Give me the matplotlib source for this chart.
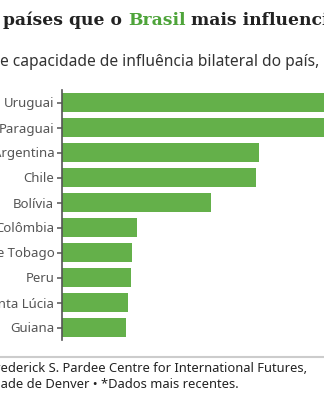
import matplotlib.pyplot as plt
from matplotlib.lines import Line2D

# influence capacity per country (bars run past the frame for the top two)
paises = ["Uruguai", "Paraguai", "Argentina", "Chile", "Bolívia", "Colômbia",
          "Trinidad e Tobago", "Peru", "Santa Lúcia", "Guiana"]
valores = [31.0, 30.0, 19.7, 19.4, 14.9, 7.5, 7.0, 6.9, 6.6, 6.4]

verde = "#64b04a"
cinza = "#555555"

plt.rcParams['font.family'] = ['Noto Sans', 'DejaVu Sans']

fig = plt.figure(figsize=(3.24, 4.0), dpi=100)
ax = fig.add_axes([62 / 324, 0.15, 262 / 324, 0.625])

ax.barh(range(len(paises)), valores, height=0.78, color=verde)
ax.set_yticks(range(len(paises)))
ax.set_yticklabels(paises, fontsize=9.5, color=cinza)
ax.set_ylim(len(paises) - 0.5, -0.5)
ax.set_xlim(0, 26.2)
ax.set_xticks([])
for s in ["top", "right", "bottom"]:
    ax.spines[s].set_visible(False)
ax.spines["left"].set_color(cinza)
ax.spines["left"].set_linewidth(1.2)
ax.tick_params(axis="y", length=3.5, width=1.1, color=cinza, pad=2)

# title with the highlighted word
t1 = fig.text(3 / 324, 1 - 20 / 400, "países que o ", fontsize=12.3,
              fontweight="bold", family=["DejaVu Serif"], color="#222222",
              va="center")
t2 = ax.annotate("Brasil", xy=(1, 0), xycoords=t1, va="bottom", fontsize=12.3,
                 fontweight="bold", family=["DejaVu Serif"], color="#4ea43a",
                 annotation_clip=False)
ax.annotate(" mais influencia", xy=(1, 0), xycoords=t2, va="bottom",
            fontsize=12.3, fontweight="bold", family=["DejaVu Serif"],
            color="#222222", annotation_clip=False)

fig.text(0, 1 - 62 / 400, "e capacidade de influência bilateral do país, 2023*",
         fontsize=11.2, color="#333333", va="center")

fig.add_artist(Line2D([0, 1], [1 - 357 / 400] * 2, color="#cccccc", lw=1.5,
                      transform=fig.transFigure))

fig.text(307 / 324, 1 - 368 / 400,
         "Fonte: Frederick S. Pardee Centre for International Futures,",
         fontsize=9.3, color="#222222", ha="right", va="center")
fig.text(239 / 324, 1 - 384 / 400,
         "Universidade de Denver • *Dados mais recentes.",
         fontsize=9.3, color="#222222", ha="right", va="center")

fig.savefig("out.png", dpi=100)
